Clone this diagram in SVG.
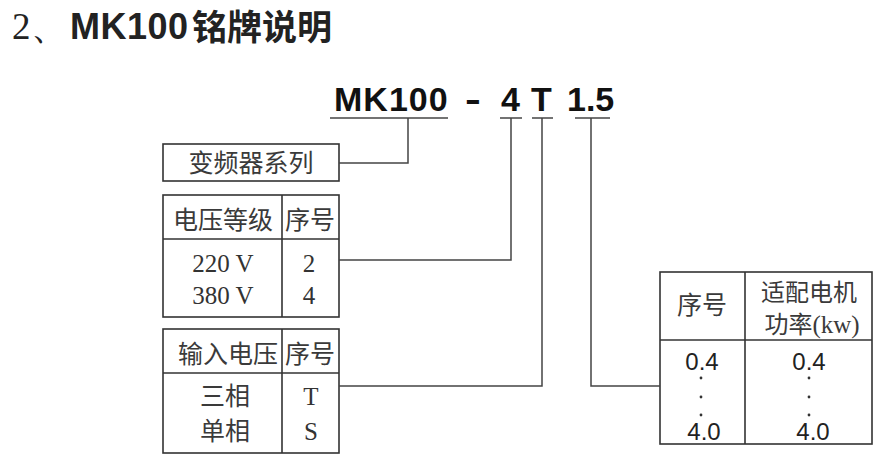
<svg xmlns="http://www.w3.org/2000/svg" width="879" height="464" viewBox="0 0 879 464">
<style>
.bx{fill:none;stroke:#333;stroke-width:1.6}
.ln{fill:none;stroke:#444;stroke-width:1.5}
.dt{fill:#333}
.cj{font-family:"Noto Sans CJK SC",sans-serif;font-size:25px;fill:#3a3a3a;text-anchor:middle}
.sf{font-family:"Liberation Serif",serif;font-size:25px;fill:#333;text-anchor:middle}
.ss{font-family:"Liberation Sans",sans-serif;font-size:24px;fill:#222;text-anchor:middle}
.cd{font-family:"Liberation Sans",sans-serif;font-weight:bold;font-size:34px;fill:#111}
</style>
<rect width="879" height="464" fill="#fff"/>
<g id="title">
<text x="12" y="39" font-family="Liberation Serif,serif" font-size="37" fill="#222">2、</text>
<text x="70" y="39" font-family="Liberation Sans,sans-serif" font-weight="bold" font-size="36" fill="#222" letter-spacing="0.5">MK100</text>
<text x="192" y="40" font-family="Noto Sans CJK SC,sans-serif" font-weight="bold" font-size="35" fill="#222">铭牌说明</text>
</g>
<g id="code">
<text class="cd" x="334" y="111" letter-spacing="1">MK100</text>
<text class="cd" x="465" y="111" transform="translate(465 0) scale(1.4 1) translate(-465 0)">-</text>
<text class="cd" x="501" y="111">4</text>
<text class="cd" x="531" y="111">T</text>
<text class="cd" x="567" y="111">1.5</text>
</g>
<g id="series">
<rect class="bx" x="163" y="144" width="176" height="37"/>
<text class="cj" x="251" y="172">变频器系列</text>
</g>
<g id="voltage">
<rect class="bx" x="163" y="195" width="176" height="122"/>
<line class="bx" x1="163" y1="239" x2="339" y2="239"/>
<line class="bx" x1="282" y1="195" x2="282" y2="317"/>
<text class="cj" x="223" y="229">电压等级</text>
<text class="cj" x="310" y="229">序号</text>
<text class="sf" x="223" y="272">220 V</text>
<text class="sf" x="223" y="304">380 V</text>
<text class="sf" x="309" y="272">2</text>
<text class="sf" x="309" y="304">4</text>
</g>
<g id="input">
<rect class="bx" x="163" y="329" width="176" height="124"/>
<line class="bx" x1="163" y1="373" x2="339" y2="373"/>
<line class="bx" x1="282" y1="329" x2="282" y2="453"/>
<text class="cj" x="228" y="363">输入电压</text>
<text class="cj" x="310" y="363">序号</text>
<text class="cj" x="225" y="405">三相</text>
<text class="cj" x="225" y="440">单相</text>
<text class="sf" x="311" y="405">T</text>
<text class="sf" x="311" y="440">S</text>
</g>
<g id="power">
<rect class="bx" x="660" y="272" width="212" height="172"/>
<line class="bx" x1="660" y1="340" x2="872" y2="340"/>
<line class="bx" x1="745" y1="272" x2="745" y2="444"/>
<text class="cj" x="702" y="314">序号</text>
<text x="809" y="301" font-family="Noto Sans CJK SC,sans-serif" font-size="24" fill="#3a3a3a" text-anchor="middle">适配电机</text>
<text x="812" y="333" font-family="Noto Sans CJK SC,sans-serif" font-size="24" fill="#3a3a3a" text-anchor="middle">功率<tspan font-family="Liberation Serif,serif" font-size="25">(kw)</tspan></text>
<text class="ss" x="702" y="370">0.4</text>
<text class="ss" x="809" y="370">0.4</text>
<circle class="dt" cx="701" cy="378" r="1.4"/>
<circle class="dt" cx="701" cy="397" r="1.4"/>
<circle class="dt" cx="701" cy="415" r="1.4"/>
<circle class="dt" cx="809" cy="378" r="1.4"/>
<circle class="dt" cx="809" cy="397" r="1.4"/>
<circle class="dt" cx="809" cy="415" r="1.4"/>
<text class="ss" x="704" y="440">4.0</text>
<text class="ss" x="813" y="440">4.0</text>
</g>
<g id="connectors">
<line class="ln" x1="330" y1="118" x2="448" y2="118"/>
<line class="ln" x1="500" y1="118" x2="522" y2="118"/>
<line class="ln" x1="532" y1="118" x2="553" y2="118"/>
<line class="ln" x1="575" y1="118" x2="610" y2="118"/>
<polyline class="ln" points="408,118 408,163 339,163"/>
<polyline class="ln" points="511,118 511,260 339,260"/>
<polyline class="ln" points="542,118 542,386 339,386"/>
<polyline class="ln" points="591,118 591,386 660,386"/>
</g>
</svg>
